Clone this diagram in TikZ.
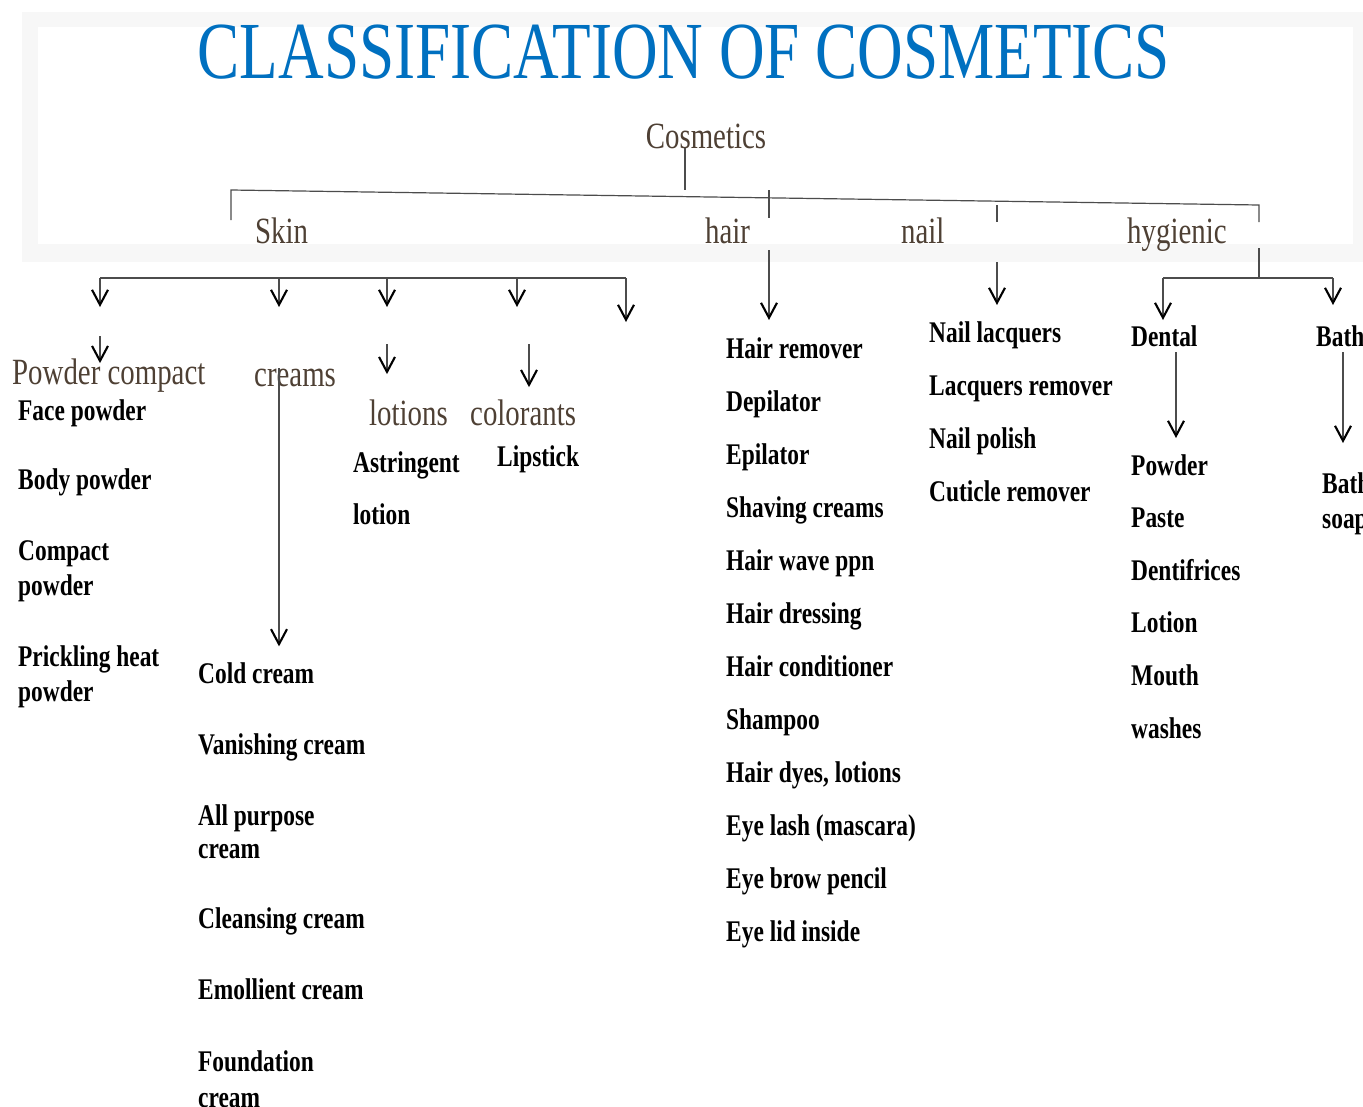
\documentclass[tikz,border=0pt]{standalone}
\usepackage{fontspec}
\setmainfont{Liberation Serif}[FakeStretch=0.78]
\usetikzlibrary{arrows.meta}
\definecolor{titleblue}{RGB}{0,112,192}
\definecolor{catbrown}{RGB}{78,64,52}

\begin{document}
\begin{tikzpicture}[x=1pt, y=-1pt,
      title/.style={font=\fontsize{81}{81}\selectfont, text=titleblue, inner sep=0},
      cat/.style={font=\fontsize{37}{40}\selectfont, text=catbrown, inner sep=0, anchor=base west},
      item/.style={font=\fontsize{30}{35}\selectfont\bfseries, inner sep=0, anchor=base west, align=left},
      link/.style={draw=black!70, line width=1.2pt},
      arr/.style={link, -{Straight Barb[length=15pt, width=16pt, line width=2.1pt, color=black]}}
      ]

  \useasboundingbox (0,0) rectangle (1363,1106);
  \clip (0,0) rectangle (1363,1106);
  \fill[black!3] (22,12) rectangle (1363,262);
  \fill[white] (38,27) rectangle (1353,244);

  \node[title] (title) at (684,52) {CLASSIFICATION OF COSMETICS};
  \node[cat, anchor=base] (cos) at (706,148) {Cosmetics};

  \node[cat] (skin) at (255,243) {Skin};
  \node[cat] (hair) at (705,243) {hair};
  \node[cat] (nail) at (901,243) {nail};
  \node[cat] (hyg)  at (1127,243) {hygienic};

  \node[cat] (pwd) at (12,384) {Powder compact};
  \node[cat] (crm) at (254,386) {creams};
  \node[cat] (lot) at (369,425) {lotions};
  \node[cat] (col) at (470,425) {colorants};

  % multi-line items sit on their last line
  \node[item] (p1) at (18,420) {Face powder};
  \node[item] (p2) at (18,489) {Body powder};
  \node[item] (p3) at (18,595) {Compact\\powder};
  \node[item] (p4) at (18,701) {Prickling heat\\powder};

  \node[item] (c1) at (198,683) {Cold cream};
  \node[item] (c2) at (198,754) {Vanishing cream};
  \node[item, font=\fontsize{30}{33}\selectfont\bfseries] (c3) at (198,858) {All purpose\\cream};
  \node[item] (c4) at (198,928) {Cleansing cream};
  \node[item] (c5) at (198,999) {Emollient cream};
  \node[item, font=\fontsize{30}{36}\selectfont\bfseries] (c6) at (198,1107) {Foundation\\cream};

  \node[item, font=\fontsize{30}{52}\selectfont\bfseries] (ast) at (353,524) {Astringent\\lotion};
  \node[item] (lip) at (497,466) {Lipstick};

  \foreach \t [count=\i] in {Hair remover, Depilator, Epilator, Shaving creams,
      Hair wave ppn, Hair dressing, Hair conditioner, Shampoo, {Hair dyes, lotions},
      Eye lash (mascara), Eye brow pencil, Eye lid inside}
    \node[item] (h\i) at (726,{305+53*\i}) {\t};

  \foreach \t [count=\i] in {Nail lacquers, Lacquers remover, Nail polish, Cuticle remover}
    \node[item] (n\i) at (929,{289+53*\i}) {\t};

  \node[item] (dent) at (1131,346) {Dental};
  \node[item] (bath) at (1316,346) {Bath};
  \foreach \t [count=\i] in {Powder, Paste, Dentifrices, Lotion, Mouth, washes}
    \node[item] (d\i) at (1131,{422.5+52.6*\i}) {\t};
  \node[item] (soap) at (1322,528) {Bath\\soap};

  % junction points
  \coordinate (cosb) at (685,190);
  \coordinate (barL) at (231,190);
  \coordinate (barR) at (1259,205);
  \coordinate (skinT) at (231,220);
  \coordinate (hygT) at (1259,222);
  \coordinate (hairT) at (769,190);
  \coordinate (nailT) at (997,205);
  \coordinate (hairA) at (769,250);
  \coordinate (nailA) at (997,262);
  \coordinate (hygB) at (1259,248);
  \coordinate (hygL) at (1163,278);
  \coordinate (hygR) at (1333,278);
  \coordinate (dentA) at (1176,352);
  \coordinate (bathA) at (1343,352);
  \foreach \x [count=\i] in {100,279,387,517,626}
    \coordinate (sb\i) at (\x,278);

  % Connect the nodes
  \draw[link] (cos.base -| cosb) -- (cosb);
  \draw[link] (skinT) -- (barL) -- (barR) -- (hygT);
  \draw[link] (hairT) -- ++(0,28);
  \draw[link] (nailT) -- ++(0,17);
  \draw[arr] (hairA) -- ++(0,70);
  \draw[arr] (nailA) -- ++(0,43);

  \draw[link] (sb1) -- (sb5);
  \foreach \i in {1,...,4}
    \draw[arr] (sb\i) -- ++(0,29);
  \draw[arr] (sb5) -- ++(0,44);

  \draw[arr] (sb1 |- pwd.north) ++(0,-22) -- ++(0,27);
  \draw[arr] (lot.north -| sb3) ++(0,-55) -- ++(0,30);
  \draw[arr] (col.north -| 529,0) ++(0,-55) -- ++(0,43);
  \draw[arr] (crm.north -| sb2) -- ++(0,278);

  \draw[link] (hygB) -- (hygL -| hygB);
  \draw[link] (hygL) -- (hygR);
  \draw[arr] (hygL) -- ++(0,42);
  \draw[arr] (hygR) -- ++(0,27);
  \draw[arr] (dentA) -- ++(0,86);
  \draw[arr] (bathA) -- ++(0,91);

\end{tikzpicture}
\end{document}
